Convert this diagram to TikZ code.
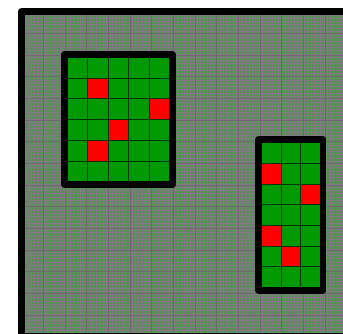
\documentclass[tikz,border=0pt]{standalone}
\definecolor{fieldgreen}{RGB}{84,146,84}
\definecolor{fieldline}{RGB}{132,120,132}
\definecolor{fieldmajor}{RGB}{112,106,112}
\definecolor{cellgreen}{RGB}{0,153,0}
\definecolor{cellred}{RGB}{255,0,0}
\begin{document}
\begin{tikzpicture}[x=1pt, y=-1pt,
  cellline/.style={draw=black!80!green, line width=0.9pt},
  frame/.style={draw=black, line width=6.5pt, line join=round}]
  \useasboundingbox (0,0) rectangle (343,333);
  \clip (0,0) rectangle (343,333);
  % field with fine grid
  \fill[fieldgreen] (21.5,11.5) rectangle (346.5,336.5);
  \foreach \i in {0,...,100} {
    \draw[fieldline, line width=0.35pt] (21.5+\i*3.25,11.5) -- ++(0,325);
    \draw[fieldline, line width=0.35pt] (21.5,11.5+\i*3.25) -- ++(325,0);
  }
  \foreach \i in {1,...,14} {
    \draw[fieldmajor, line width=0.4pt] (21.5+\i*21.67,11.5) -- ++(0,325);
    \draw[fieldmajor, line width=0.4pt] (21.5,11.5+\i*21.67) -- ++(325,0);
  }
  \draw[frame, line width=7pt] (21.5,11.5) rectangle (346.5,336.5);

  % left patch: 5 x 6 cells
  \fill[cellgreen] (67.5,57.5) rectangle (169.5,181.7);
  \foreach \c/\r in {1/1, 4/2, 2/3, 1/4}
    \fill[cellred] (67.5+\c*20.4,57.5+\r*20.7) rectangle ++(20.4,20.7);
  \foreach \c in {1,...,4}
    \draw[cellline] (67.5+\c*20.4,57.5) -- (67.5+\c*20.4,181.7);
  \foreach \r in {1,...,5}
    \draw[cellline] (67.5,57.5+\r*20.7) -- (169.5,57.5+\r*20.7);
  \draw[frame] (64.5,54.5) rectangle (172.5,184.7);

  % right patch: 3 x 7 cells
  \fill[cellgreen] (261.7,142.7) rectangle (320.2,287.3);
  \foreach \c/\r in {0/1, 2/2, 0/4, 1/5}
    \fill[cellred] (261.7+\c*19.5,142.7+\r*20.66) rectangle ++(19.5,20.66);
  \foreach \c in {1,2}
    \draw[cellline] (261.7+\c*19.5,142.7) -- (261.7+\c*19.5,287.3);
  \foreach \r in {1,...,6}
    \draw[cellline] (261.7,142.7+\r*20.66) -- (320.2,142.7+\r*20.66);
  \draw[frame] (258.7,139.7) rectangle (323.2,290.3);
\end{tikzpicture}
\end{document}
